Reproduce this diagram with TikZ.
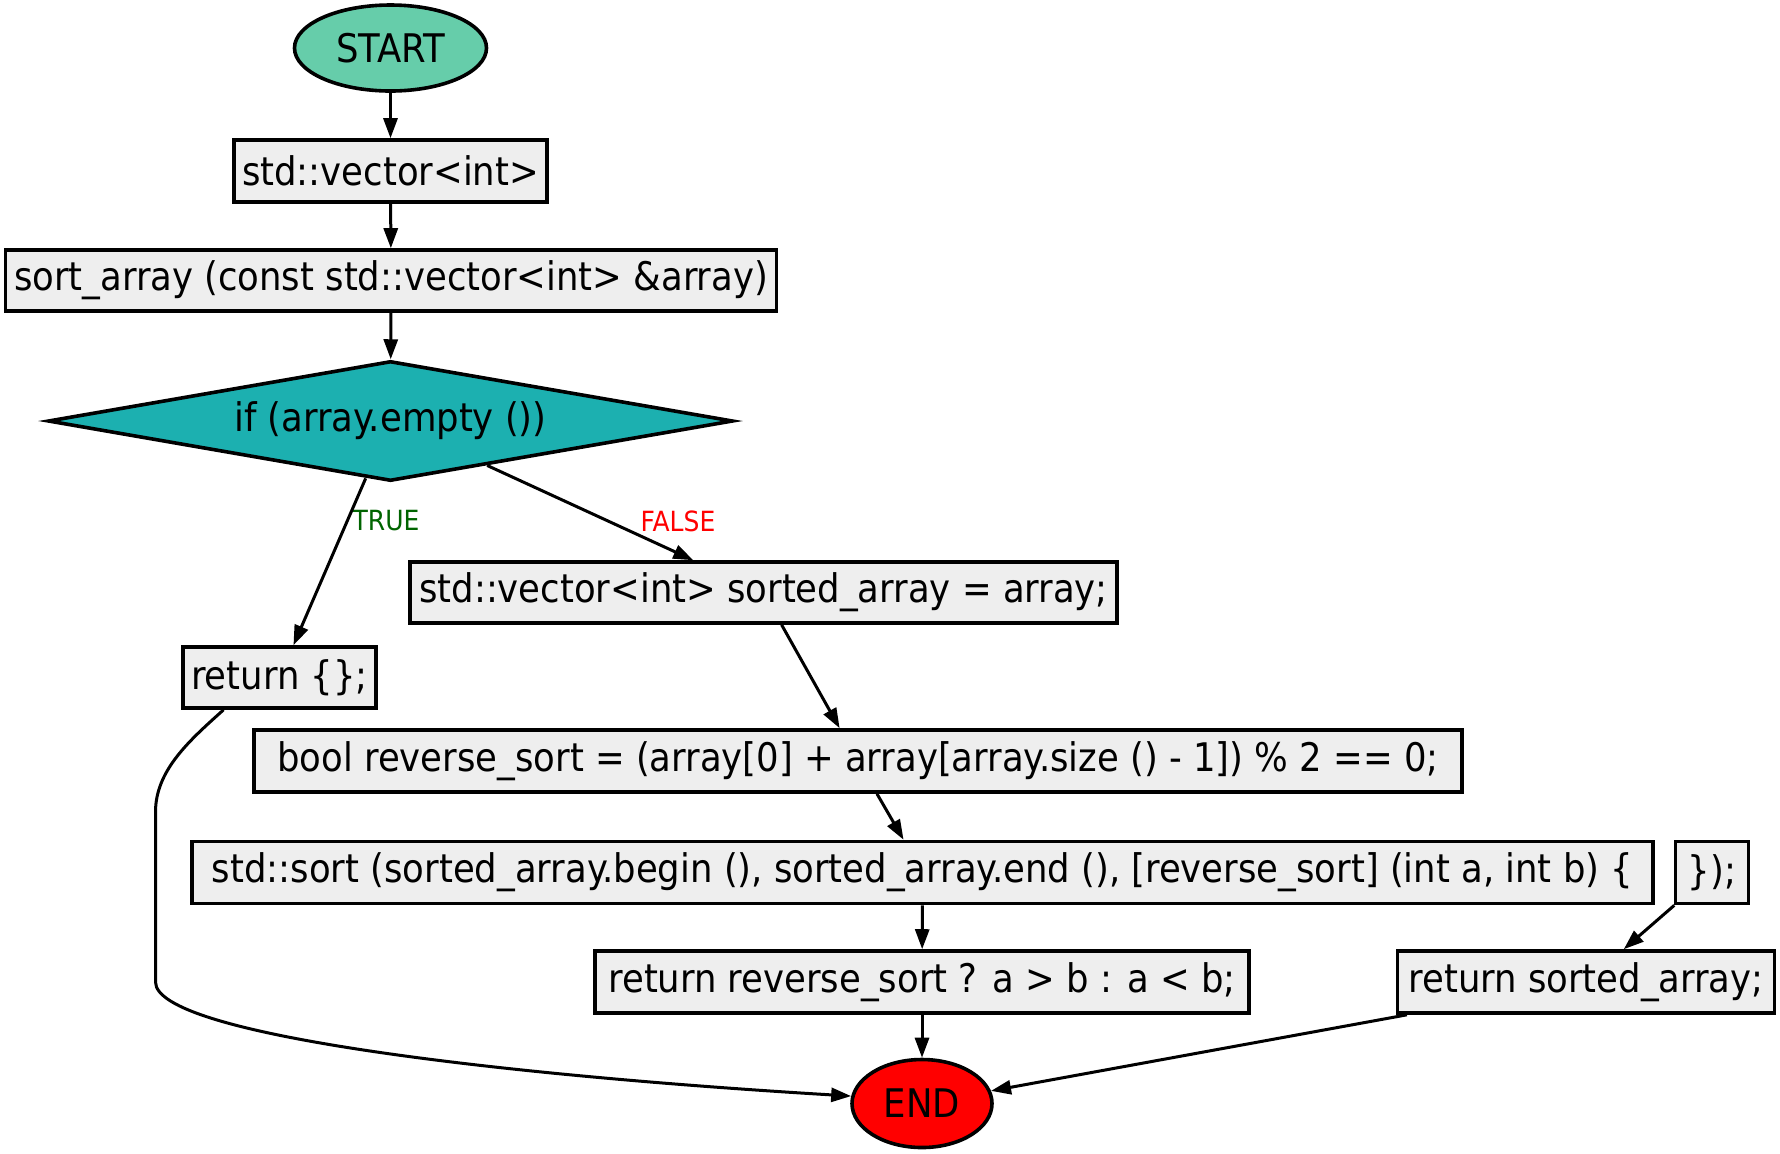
\documentclass[tikz,border=0pt]{standalone}
\usepackage{fontspec}
\setmainfont{DejaVu Sans Condensed}
\usetikzlibrary{shapes.geometric,arrows.meta}
\definecolor{startfill}{RGB}{102,205,170}
\definecolor{decfill}{RGB}{28,176,176}
\definecolor{boxfill}{RGB}{238,238,238}
\definecolor{truecol}{RGB}{0,100,0}
\tikzset{
  base/.style={draw=black, line width=1.8pt, inner sep=0pt, font=\fontsize{19.7}{23}\selectfont},
  codebox/.style={base, rectangle, fill=boxfill},
  term/.style={base, ellipse},
  decision/.style={base, diamond, fill=decfill, aspect=5.7},
  edgelabel/.style={inner sep=0pt, font=\fontsize{13.9}{16}\selectfont},
  flow/.style={draw=black, line width=1.5pt, -{Triangle[length=10pt,width=7pt]}},
}
\begin{document}
\begin{tikzpicture}[x=0.5pt,y=-0.5pt]
\useasboundingbox (0,0) rectangle (1780,1153);
\node[term, fill=startfill, minimum width=96pt, minimum height=43pt] (start) at (390.5,48) {START};
\node[codebox, minimum width=156.5pt, minimum height=31pt] (vec) at (390.5,171) {std::vector<int>};
\node[codebox, minimum width=385.5pt, minimum height=30.5pt] (sig) at (391,280.5) {sort\_array (const std::vector<int> \&array)};
\node[decision, minimum width=342.5pt, minimum height=60pt] (dec) at (390.5,421) {if (array.empty ())};
\node[codebox, minimum width=353.5pt, minimum height=30.5pt] (copy) at (763.5,592.5) {std::vector<int> sorted\_array = array;};
\node[codebox, minimum width=96.5pt, minimum height=30.5pt] (ret) at (279.5,677.5) {return \{\};};
\node[codebox, minimum width=604pt, minimum height=31pt] (rev) at (858,761) {bool reverse\_sort = (array[0] + array[array.size () - 1]) \% 2 == 0;};
\node[codebox, minimum width=730.5pt, minimum height=31pt] (sort) at (922.5,872.5) {std::sort (sorted\_array.begin (), sorted\_array.end (), [reverse\_sort] (int a, int b) \{};
\node[codebox, minimum width=36.5pt, minimum height=31pt] (close) at (1712,872.5) {\});};
\node[codebox, minimum width=327pt, minimum height=31pt] (cmp) at (922,982) {return reverse\_sort ? a > b : a < b;};
\node[codebox, minimum width=188.5pt, minimum height=31pt] (rets) at (1586,982) {return sorted\_array;};
\node[term, fill=red, minimum width=70pt, minimum height=44pt] (end) at (922,1103.5) {END};

\node[edgelabel, text=truecol] (tlab) at (386,521) {TRUE};
\node[edgelabel, text=red] (flab) at (678,521) {FALSE};

\draw[flow] (start) -- (vec);
\draw[flow] (vec) -- (sig);
\draw[flow] (sig) -- (dec);
\draw[flow] (dec) -- (ret);
\draw[flow] (dec) -- (copy);
\draw[flow] (copy) -- (rev);
\draw[flow] (rev) -- (sort);
\draw[flow] (sort) -- (cmp);
\draw[flow] (cmp) -- (end);
\draw[flow] (close) -- (rets);
\draw[flow] (rets) -- (end);
\draw[flow] (ret.210) .. controls (190,740) and (155.5,770) .. (155.5,812)
  -- (155.5,982) .. controls (155.5,1035) and (500,1075) .. (end.174);
\end{tikzpicture}
\end{document}
